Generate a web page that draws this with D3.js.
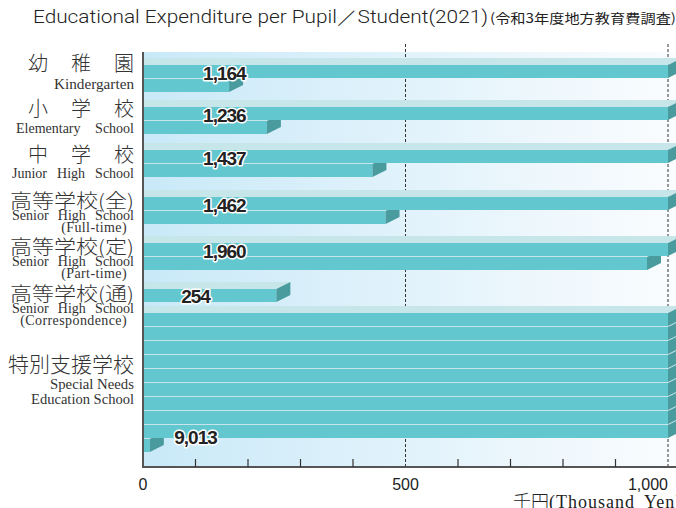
<!DOCTYPE html>
<html>
<head>
<meta charset="utf-8">
<script src="https://cdn.jsdelivr.net/npm/d3@7"></script>
<style>
  body { margin: 0; background: #fff; }
  svg { display: block; }
</style>
</head>
<body>
<div id="chart"></div>
<script>
(function () {

  // data (thousand yen per pupil)
  var jaLabels = ["幼稚園", "小学校", "中学校", "高等学校(全)", "高等学校(定)", "高等学校(通)", "特別支援学校"];
  var enLabels = [
    ["Kindergarten"],
    ["Elementary School"],
    ["Junior High School"],
    ["Senior High School", "(Full-time)"],
    ["Senior High School", "(Part-time)"],
    ["Senior High School", "(Correspondence)"],
    ["Special Needs", "Education School"]
  ];
  var values = [1164, 1236, 1437, 1462, 1960, 254, 9013];
  var xTicks = [0, 500, 1000];
  var minorTicks = [100, 200, 300, 400, 600, 700, 800, 900];

  var width = 676, height = 508;
  var left = 143, right = 668;
  var plotTop = 52, plotBottom = 467;
  var pitch = 14, barH = 13, dx = 14, dy = 7;
  // space left below each group before the next one starts
  var groupGaps = [14, 15, 19, 18, 18, 10];

  var front_color = "#63c7cf";
  var top_color = "#c6e6e9";
  var end_color = "#4a9b9e";

  var x = d3.scaleLinear().domain([0, 1000]).range([left, right]);
  var fmt = d3.format(",");

  var svg = d3.select("#chart").append("svg")
    .attr("width", width)
    .attr("height", height);

  var defs = svg.append("defs");
  var grad = defs.append("linearGradient").attr("id", "bg");
  grad.append("stop").attr("offset", "0%").attr("stop-color", "#c9e9f8");
  grad.append("stop").attr("offset", "100%").attr("stop-color", "#fafcfe");
  defs.append("clipPath").attr("id", "plotclip")
    .append("rect").attr("x", left).attr("y", 0).attr("width", width - left).attr("height", plotBottom);

  // title
  var title = svg.append("text")
    .attr("x", 33).attr("y", 23)
    .style("font-family", "Roboto, 'Liberation Sans', sans-serif")
    .style("font-size", "18px")
    .style("font-weight", "300")
    .attr("fill", "#222");
  title.append("tspan").text("Educational Expenditure per Pupil／Student(2021)")
    .attr("textLength", 455).attr("lengthAdjust", "spacingAndGlyphs");
  title.append("tspan").attr("x", 490).text("(令和3年度地方教育費調査)")
    .style("font-family", "'Noto Sans CJK JP', sans-serif")
    .style("font-size", "13px")
    .style("font-weight", "400")
    .attr("textLength", 186).attr("lengthAdjust", "spacingAndGlyphs");

  // background
  svg.append("rect")
    .attr("x", left).attr("y", plotTop)
    .attr("width", width - left).attr("height", plotBottom - plotTop)
    .attr("fill", "url(#bg)");

  // dashed guides
  svg.selectAll(".guide")
    .data([500, 1000])
    .enter().append("line")
    .attr("x1", function (d) { return x(d); })
    .attr("x2", function (d) { return x(d); })
    .attr("y1", plotTop - 8).attr("y2", plotBottom)
    .attr("stroke", "#333")
    .attr("stroke-width", 1)
    .attr("stroke-dasharray", "3,2");

  // build rows: every 1,000 wraps to a new row
  var groups = [];
  var top = 65;
  values.forEach(function (v, i) {
    var full = Math.floor(v / 1000), rest = v % 1000;
    var rows = [];
    for (var r = 0; r < full; r++) rows.push(1000);
    if (rest > 0) rows.push(rest);
    groups.push({ i: i, value: v, top: top, rows: rows });
    top += rows.length * pitch + (groupGaps[i] || 0);
  });

  var rowData = [];
  groups.forEach(function (g) {
    g.rows.forEach(function (len, r) {
      rowData.push({ g: g.i, r: r, len: len, y: g.top + r * pitch });
    });
  });
  // draw lower rows first so upper rows sit on top of their top faces
  rowData.sort(function (a, b) { return b.y - a.y; });

  var bars = svg.append("g").attr("clip-path", "url(#plotclip)");
  var rowG = bars.selectAll(".row")
    .data(rowData)
    .enter().append("g").attr("class", "row");

  rowG.append("polygon")
    .attr("fill", top_color)
    .attr("points", function (d) {
      var xe = x(d.len);
      return [[left, d.y], [left, d.y - dy], [xe + dx, d.y - dy], [xe, d.y]].join(" ");
    });
  rowG.append("rect")
    .attr("fill", front_color)
    .attr("x", left)
    .attr("y", function (d) { return d.y; })
    .attr("width", function (d) { return x(d.len) - left; })
    .attr("height", barH);
  rowG.append("polygon")
    .attr("fill", end_color)
    .attr("points", function (d) {
      var xe = x(d.len);
      return [[xe, d.y], [xe + dx, d.y - dy], [xe + dx, d.y - dy + barH], [xe, d.y + barH]].join(" ");
    });

  // value labels
  svg.selectAll(".val")
    .data(groups)
    .enter().append("text")
    .attr("x", function (g) { return g.rows.length == 2 ? x(155) : x(100); })
    .attr("y", function (g) {
      if (g.rows.length == 1) return g.top + barH / 2 + 1;
      if (g.rows.length == 2) return g.top + 8;
      return g.top + (g.rows.length - 1) * pitch - 2;
    })
    .attr("dy", "0.36em")
    .attr("text-anchor", "middle")
    .style("font-family", "'Liberation Sans', Arial, sans-serif")
    .style("font-size", "19px")
    .style("font-weight", "bold")
    .style("letter-spacing", "-1px")
    .style("paint-order", "stroke")
    .attr("stroke", "#fff")
    .attr("stroke-width", 3)
    .attr("stroke-linejoin", "round")
    .attr("fill", "#222")
    .text(function (g) { return fmt(g.value); });

  // axes
  svg.append("line")
    .attr("x1", left).attr("x2", left)
    .attr("y1", plotTop).attr("y2", plotBottom)
    .attr("stroke", "#555").attr("stroke-width", 2);
  svg.append("line")
    .attr("x1", left - 1).attr("x2", width)
    .attr("y1", plotBottom).attr("y2", plotBottom)
    .attr("stroke", "#555").attr("stroke-width", 2);
  svg.selectAll(".minor")
    .data(minorTicks)
    .enter().append("line")
    .attr("x1", function (d) { return x(d); })
    .attr("x2", function (d) { return x(d); })
    .attr("y1", plotBottom - 8).attr("y2", plotBottom)
    .attr("stroke", "#333").attr("stroke-width", 1.2);

  svg.selectAll(".tick")
    .data(xTicks)
    .enter().append("text")
    .attr("x", function (d) { return x(d); })
    .attr("y", 490)
    .attr("text-anchor", function (d) { return d == 1000 ? "end" : "middle"; })
    .style("font-family", "'Liberation Sans', Arial, sans-serif")
    .style("font-size", "16px")
    .attr("fill", "#222")
    .text(function (d) { return fmt(d); });

  // unit label, runs off the right edge as in the reference
  var unit = svg.append("text")
    .attr("x", 513).attr("y", 508)
    .style("font-family", "'Liberation Serif', serif")
    .style("font-size", "18px")
    .attr("fill", "#222");
  unit.append("tspan").text("千円").style("font-family", "'Noto Sans CJK JP', sans-serif")
    .style("font-weight", "300");
  unit.append("tspan").text("(Thousand").style("letter-spacing", "1px");
  unit.append("tspan").attr("dx", 9).text("Yen)").style("letter-spacing", "1px");

  // category labels on the left
  var labelRight = 134;
  var jaFont = "'Noto Sans CJK JP', sans-serif";
  var enFont = "'Liberation Serif', 'DejaVu Serif', serif";

  function label(sel, txt, y, font, size) {
    return sel.append("text").attr("y", y)
      .style("font-family", font).style("font-size", size + "px")
      .style("font-weight", font == jaFont ? "300" : "400")
      .attr("fill", "#333").text(txt);
  }

  function spread(sel, text, xl, xr, y, font, size) {
    // place words so the line fills xl..xr
    var words = text.split(" ");
    var nodes = words.map(function (w) { return label(sel, w, y, font, size); });
    var widths = nodes.map(function (n) { return n.node().getComputedTextLength(); });
    var total = d3.sum(widths);
    var gap = words.length > 1 ? (xr - xl - total) / (words.length - 1) : 0;
    var cx = words.length > 1 ? xl : xr - total;
    nodes.forEach(function (n, k) {
      n.attr("x", cx);
      cx += widths[k] + gap;
    });
  }

  function fit(sel, text, xl, xr, y, font, size) {
    label(sel, text, y, font, size)
      .attr("x", xl)
      .attr("textLength", xr - xl)
      .attr("lengthAdjust", "spacingAndGlyphs");
  }

  var lab = svg.append("g");
  groups.forEach(function (g) {
    var n = g.rows.length;
    var mid = g.top + (n * pitch) / 2;
    var ja = jaLabels[g.i];
    var en = enLabels[g.i];
    if (g.i < 3) {
      spread(lab, ja.split("").join(" "), 28, labelRight, g.top + 6 + 3 * g.i, jaFont, 20);
      var xl = [54, 16, 12][g.i];
      if (g.i == 0) fit(lab, en[0], xl, labelRight, g.top + 24 + 2 * g.i, enFont, 14);
      else spread(lab, en[0], xl, labelRight, g.top + 24 + 2 * g.i, enFont, 14);
    } else if (g.i < 6) {
      var off = g.i == 5 ? 1 : 0;
      fit(lab, ja, 10, labelRight, g.top + 11 + off, jaFont, 19);
      spread(lab, en[0], 12, labelRight, g.top + 23 + off, enFont, 14);
      lab.append("text").attr("x", 127).attr("y", g.top + 35 + off)
        .attr("text-anchor", "end")
        .style("font-family", enFont).style("font-size", "14px")
        .style("letter-spacing", "0.4px")
        .attr("fill", "#333").text(en[1]);
    } else {
      fit(lab, ja, 8, labelRight, mid - 11, jaFont, 21);
      fit(lab, en[0], 50, labelRight, mid + 6, enFont, 14);
      fit(lab, en[1], 31, labelRight, mid + 21, enFont, 14);
    }
  });

})();
</script>
</body>
</html>
